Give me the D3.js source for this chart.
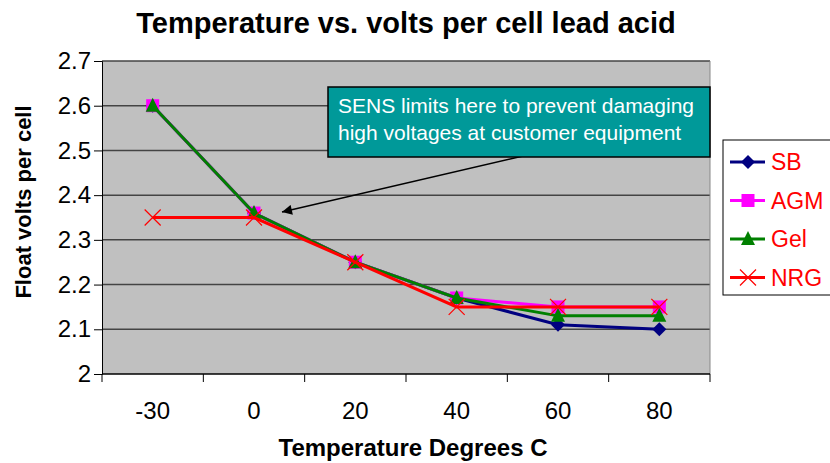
<!DOCTYPE html>
<html>
<head>
<meta charset="utf-8">
<script src="https://cdn.jsdelivr.net/npm/d3@7"></script>
<style>
  body { margin: 0; background: #fff; }
  svg text { font-family: "Liberation Sans", Arial, sans-serif; }
</style>
</head>
<body>
<div id="chart"></div>
<script>
// categories and values
const temps = ["-30", "0", "20", "40", "60", "80"];
const sbValues  = [2.60, 2.36, 2.25, 2.17, 2.11, 2.10];
const agmValues = [2.60, 2.36, 2.25, 2.17, 2.15, 2.15];
const gelValues = [2.60, 2.36, 2.25, 2.17, 2.13, 2.13];
const nrgValues = [2.35, 2.35, 2.25, 2.15, 2.15, 2.15];
const yTicks = [2, 2.1, 2.2, 2.3, 2.4, 2.5, 2.6, 2.7];

const series = [
    { name: "SB",  values: sbValues,  color: "#000080", symbol: "diamond" },
    { name: "AGM", values: agmValues, color: "#FF00FF", symbol: "square" },
    { name: "Gel", values: gelValues, color: "#008000", symbol: "triangle" },
    { name: "NRG", values: nrgValues, color: "#FF0000", symbol: "cross" }
];

const width = 830, height = 463;
const margin = { top: 61, right: 120, bottom: 89, left: 102 };

const svg = d3.select("#chart").append("svg")
    .attr("width", width)
    .attr("height", height);

const x = d3.scaleBand().domain(temps).range([margin.left, width - margin.right]);
const y = d3.scaleLinear().domain([2, 2.7]).range([height - margin.bottom, margin.top]);

// plot area background
svg.append("rect")
    .attr("x", margin.left)
    .attr("y", margin.top)
    .attr("width", width - margin.left - margin.right)
    .attr("height", height - margin.bottom - margin.top)
    .attr("fill", "#C0C0C0");

// gridlines
svg.append("g")
    .selectAll("line")
    .data(yTicks.slice(1))
    .join("line")
    .attr("x1", margin.left)
    .attr("x2", width - margin.right)
    .attr("y1", d => y(d))
    .attr("y2", d => y(d))
    .attr("stroke", "#444")
    .attr("stroke-width", 1.5);

// right border of plot
svg.append("line")
    .attr("x1", width - margin.right).attr("x2", width - margin.right)
    .attr("y1", margin.top).attr("y2", height - margin.bottom)
    .attr("stroke", "#888").attr("stroke-width", 1);

// y axis
const yAxis = svg.append("g")
    .attr("transform", `translate(${margin.left},0)`)
    .call(d3.axisLeft(y).tickValues(yTicks).tickFormat(d3.format("")).tickSizeOuter(0).tickSize(8).tickPadding(3));
yAxis.selectAll("text").attr("font-size", 24).attr("fill", "#000");
yAxis.selectAll("line, path").attr("stroke", "#000");

// x axis: ticks on band edges
const xAxis = svg.append("g")
    .attr("transform", `translate(0,${height - margin.bottom})`);
xAxis.append("line")
    .attr("x1", margin.left).attr("x2", width - margin.right)
    .attr("stroke", "#000").attr("stroke-width", 1.5);
xAxis.selectAll(".tk")
    .data(temps.concat(["end"]))
    .join("line")
    .attr("class", "tk")
    .attr("x1", (d, i) => margin.left + i * x.bandwidth())
    .attr("x2", (d, i) => margin.left + i * x.bandwidth())
    .attr("y1", 0).attr("y2", 8)
    .attr("stroke", "#000");
xAxis.selectAll("text")
    .data(temps)
    .join("text")
    .attr("x", d => x(d) + x.bandwidth() / 2)
    .attr("y", 45)
    .attr("text-anchor", "middle")
    .attr("font-size", 24)
    .text(d => d);

// titles
svg.append("text")
    .attr("x", 406).attr("y", 33)
    .attr("text-anchor", "middle")
    .attr("font-size", 29).attr("font-weight", "bold")
    .text("Temperature vs. volts per cell lead acid");

svg.append("text")
    .attr("x", 413).attr("y", 456)
    .attr("text-anchor", "middle")
    .attr("font-size", 24).attr("font-weight", "bold")
    .text("Temperature Degrees C");

svg.append("text")
    .attr("transform", "translate(31,202) rotate(-90)")
    .attr("text-anchor", "middle")
    .attr("font-size", 22).attr("font-weight", "bold")
    .text("Float volts per cell");

// draw a marker
function drawMarker(g, symbol, color, cx, cy) {
    if (symbol === "diamond") {
        g.append("path")
            .attr("d", `M${cx},${cy - 7}L${cx + 7},${cy}L${cx},${cy + 7}L${cx - 7},${cy}Z`)
            .attr("fill", color);
    } else if (symbol === "square") {
        g.append("rect")
            .attr("x", cx - 6.5).attr("y", cy - 6.5)
            .attr("width", 13).attr("height", 13)
            .attr("fill", color);
    } else if (symbol === "triangle") {
        g.append("path")
            .attr("d", `M${cx},${cy - 8}L${cx + 7},${cy + 6}L${cx - 7},${cy + 6}Z`)
            .attr("fill", color);
    } else {
        g.append("path")
            .attr("d", `M${cx - 8},${cy - 8}L${cx + 8},${cy + 8}M${cx + 8},${cy - 8}L${cx - 8},${cy + 8}`)
            .attr("stroke", color).attr("stroke-width", 1.2).attr("fill", "none");
    }
}

// lines and markers
const line = d3.line()
    .x((d, i) => x(temps[i]) + x.bandwidth() / 2)
    .y(d => y(d));

series.forEach(s => {
    const g = svg.append("g");
    g.append("path")
        .attr("d", line(s.values))
        .attr("fill", "none")
        .attr("stroke", s.color)
        .attr("stroke-width", 3);
    s.values.forEach((v, i) => {
        drawMarker(g, s.symbol, s.color, x(temps[i]) + x.bandwidth() / 2, y(v));
    });
});

// annotation arrow
svg.append("defs").append("marker")
    .attr("id", "arrow")
    .attr("viewBox", "0 0 10 10")
    .attr("refX", 10).attr("refY", 5)
    .attr("markerWidth", 12).attr("markerHeight", 10)
    .attr("markerUnits", "userSpaceOnUse")
    .attr("orient", "auto")
    .append("path")
    .attr("d", "M0,0L10,5L0,10Z")
    .attr("fill", "#000");

svg.append("line")
    .attr("x1", 523).attr("y1", 156)
    .attr("x2", x("0") + x.bandwidth() / 2 + 28).attr("y2", y(2.36) - 1)
    .attr("stroke", "#000").attr("stroke-width", 1.5)
    .attr("marker-end", "url(#arrow)");

// annotation box
svg.append("rect")
    .attr("x", 328).attr("y", 87)
    .attr("width", 382).attr("height", 70)
    .attr("fill", "#009999")
    .attr("stroke", "#000").attr("stroke-width", 1.5);
svg.append("text")
    .attr("x", 338).attr("y", 113)
    .attr("font-size", 21).attr("fill", "#fff")
    .text("SENS limits here to prevent damaging");
svg.append("text")
    .attr("x", 338).attr("y", 140)
    .attr("font-size", 21).attr("fill", "#fff")
    .text("high voltages at customer equipment");

// legend
const legend = svg.append("g");
legend.append("rect")
    .attr("x", 723).attr("y", 140)
    .attr("width", 108).attr("height", 155)
    .attr("fill", "#fff")
    .attr("stroke", "#000").attr("stroke-width", 1);
series.forEach((s, i) => {
    const ly = 162 + i * 38.5;
    legend.append("line")
        .attr("x1", 730).attr("x2", 765)
        .attr("y1", ly).attr("y2", ly)
        .attr("stroke", s.color).attr("stroke-width", 3);
    drawMarker(legend, s.symbol, s.color, 748, ly);
    legend.append("text")
        .attr("x", 771).attr("y", ly + 8)
        .attr("font-size", 23).attr("fill", "#FF0000")
        .text(s.name);
});
</script>
</body>
</html>
